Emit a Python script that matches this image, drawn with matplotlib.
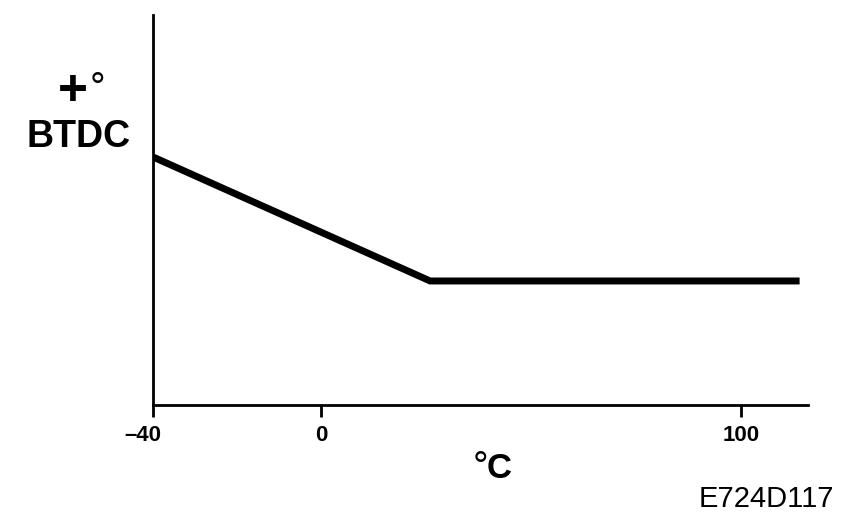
import matplotlib
matplotlib.use("Agg")
import matplotlib.pyplot as plt
from matplotlib.transforms import ScaledTranslation

# Data (temperature in °C vs. advance, arbitrary units)
temp_c = [-40, 26, 114]
advance = [63.6, 31.8, 31.8]
tick_vals = [-40, 0, 100]
tick_labels = ["\u201340", "0", "100"]

plt.rcParams['font.family'] = ['Liberation Sans', 'DejaVu Sans']

W, H = 864, 526
fig = plt.figure(figsize=(8.64, 5.26), dpi=100)
ax = fig.add_axes([153/W, (H-405)/H, (808-153)/W, (405-15)/H])
ax.plot(temp_c, advance, color='black', linewidth=5, solid_capstyle='butt',
        solid_joinstyle='miter')
ax.set_xlim(-40, 116)
ax.set_ylim(0, 100)
for s in ['top', 'right']:
    ax.spines[s].set_visible(False)
for s in ['left', 'bottom']:
    ax.spines[s].set_linewidth(2.0)
    ax.spines[s].set_color('black')
ax.set_yticks([])
ax.set_xticks(tick_vals)
ax.set_xticklabels(tick_labels, fontsize=16, fontweight='bold')
ax.tick_params(axis='x', direction='out', length=8.5, width=2, pad=6)
lbl = ax.get_xticklabels()[0]
lbl.set_transform(lbl.get_transform() + ScaledTranslation(-0.10, 0, fig.dpi_scale_trans))

def ftext(x, y, s, **kw):
    fig.text(x/W, 1 - y/H, s, **kw)

# x-axis unit
ftext(480.5, 478, "°", fontsize=28, ha='center', va='baseline')
ftext(499.5, 478, "C", fontsize=25, fontweight='bold', ha='center', va='baseline')
# y-axis label
ftext(72.5, 105, "+", fontsize=37, fontweight='bold', ha='center', va='baseline')
ftext(97.5, 99, "°", fontsize=28, ha='center', va='baseline')
ftext(79, 147, "BTDC", fontsize=27, fontweight='bold', ha='center', va='baseline')
# figure code
ftext(766, 499, "E724D117", fontsize=21, ha='center', va='center')

fig.savefig("out.png", dpi=100)
